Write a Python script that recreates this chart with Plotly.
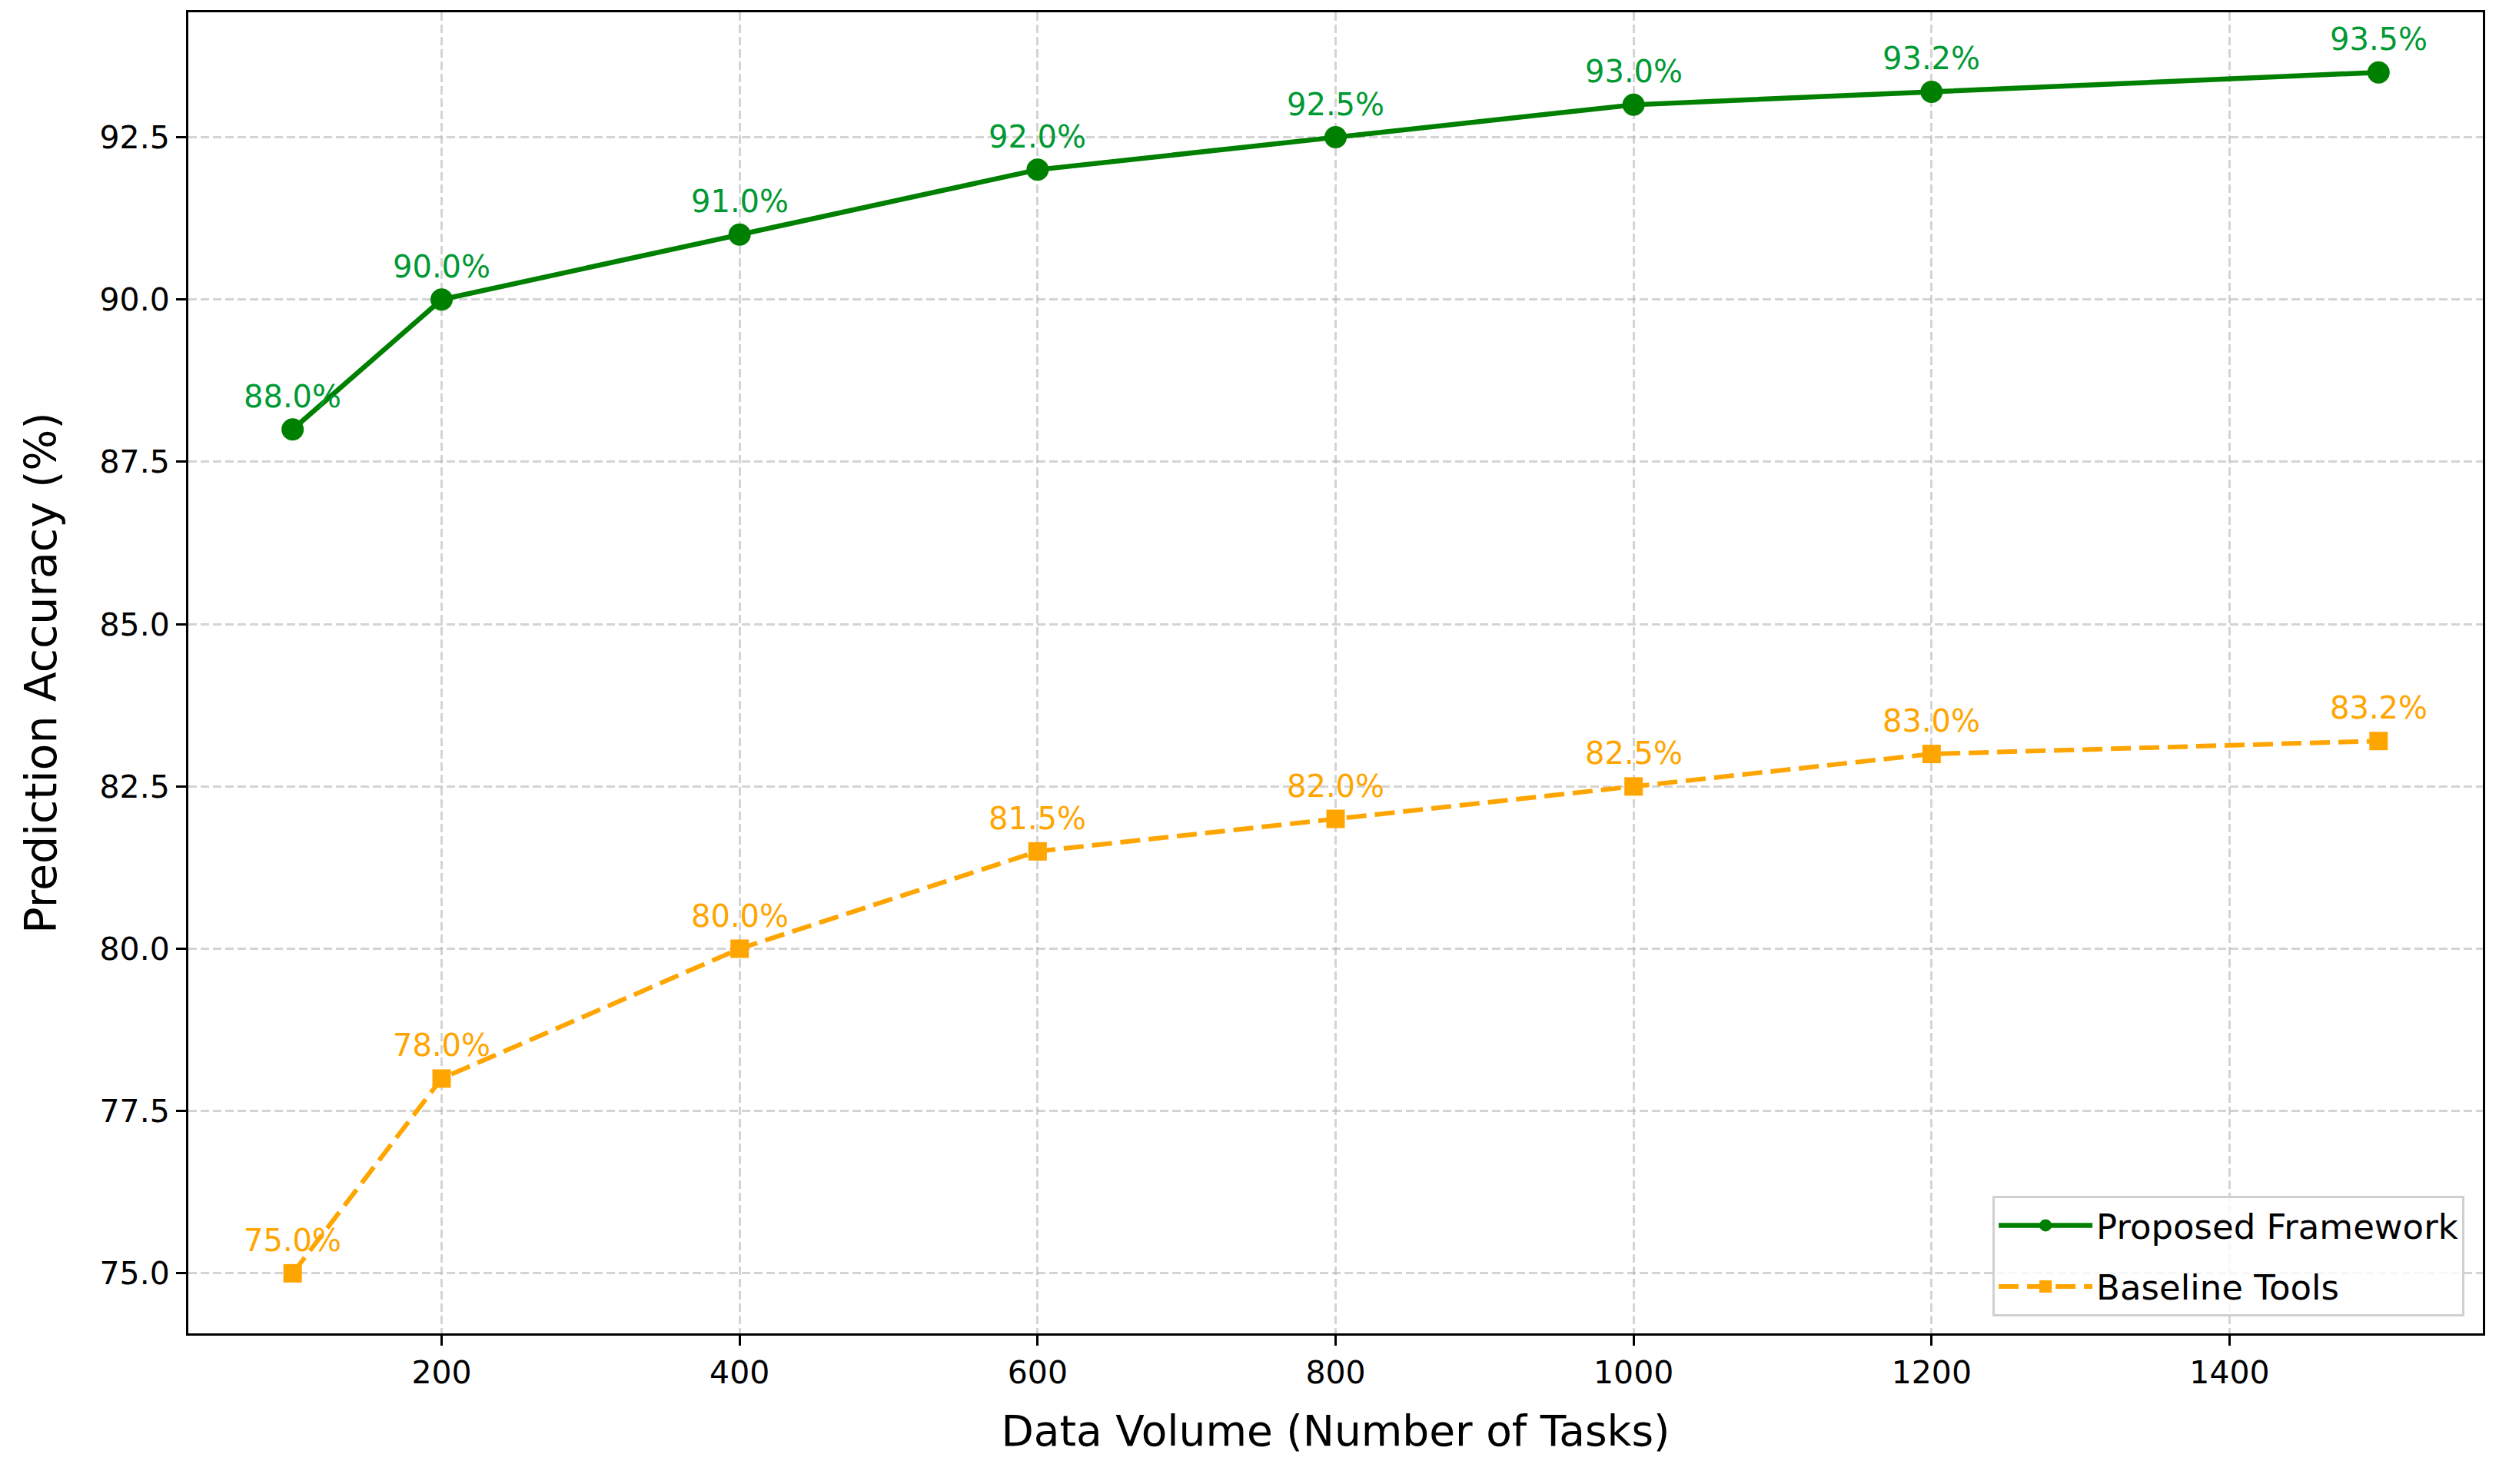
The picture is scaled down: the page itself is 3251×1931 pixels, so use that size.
import plotly.graph_objects as go

data_volume = [100, 200, 400, 600, 800, 1000, 1200, 1500]
proposed_acc = [88.0, 90.0, 91.0, 92.0, 92.5, 93.0, 93.2, 93.5]
baseline_acc = [75.0, 78.0, 80.0, 81.5, 82.0, 82.5, 83.0, 83.2]
x_ticks = [200, 400, 600, 800, 1000, 1200, 1400]
y_ticks = [75.0, 77.5, 80.0, 82.5, 85.0, 87.5, 90.0, 92.5]

GREEN = "#008000"
GREEN_TXT = "#009933"
ORANGE = "#FFA500"
FONT = "DejaVu Sans"

W, H = 3251, 1931
ML, MR, MT, MB = 237, 29, 5, 204

fig = go.Figure()
fig.add_trace(go.Scatter(
    x=data_volume, y=proposed_acc, mode="lines+markers", name="Proposed Framework",
    line=dict(color=GREEN, width=6.5), marker=dict(symbol="circle", size=29, color=GREEN),
    legendgroup="a"))
fig.add_trace(go.Scatter(
    x=data_volume, y=baseline_acc, mode="lines+markers", name="Baseline Tools",
    line=dict(color=ORANGE, width=6, dash="26px,11px"),
    marker=dict(symbol="square", size=24, color=ORANGE), legendgroup="b"))

annotations = []
for xv, yv in zip(data_volume, proposed_acc):
    annotations.append(dict(x=xv, y=yv, text=f"{yv:.1f}%", showarrow=False,
                            xanchor="center", yanchor="bottom", yshift=18,
                            font=dict(family=FONT, size=40, color=GREEN_TXT)))
for xv, yv in zip(data_volume, baseline_acc):
    annotations.append(dict(x=xv, y=yv, text=f"{yv:.1f}%", showarrow=False,
                            xanchor="center", yanchor="bottom", yshift=18,
                            font=dict(family=FONT, size=40, color=ORANGE)))

grid = dict(showgrid=True, gridcolor="rgba(176,176,176,0.55)", gridwidth=3,
            griddash="11px,5px", zeroline=False, showline=True, linecolor="black",
            linewidth=3, mirror=True, ticks="outside", ticklen=13, tickwidth=3,
            tickcolor="black", tickfont=dict(family=FONT, size=41, color="black"))

fig.update_layout(
    width=W, height=H, autosize=False,
    margin=dict(l=ML, r=MR, t=MT, b=MB, pad=0),
    paper_bgcolor="white", plot_bgcolor="white",
    font=dict(family=FONT, color="black"),
    annotations=annotations,
    xaxis=dict(range=[30, 1570], tickvals=x_ticks, ticktext=[str(v) for v in x_ticks],
               title=dict(text="Data Volume (Number of Tasks)",
                          font=dict(family=FONT, size=55), standoff=34),
               **grid),
    yaxis=dict(range=[74.075, 94.425], tickvals=y_ticks,
               ticktext=[f"{v:.1f}" for v in y_ticks],
               title=dict(text="Prediction Accuracy (%)",
                          font=dict(family=FONT, size=57), standoff=38),
               **grid),
    legend=dict(x=0.992, y=0.013, xanchor="right", yanchor="bottom",
                bgcolor="rgba(255,255,255,0.8)", bordercolor="#d0d0d0", borderwidth=3,
                font=dict(family=FONT, size=45, color="black"),
                tracegroupgap=18, itemwidth=122),
    showlegend=True,
)

fig.write_html("out.html")
